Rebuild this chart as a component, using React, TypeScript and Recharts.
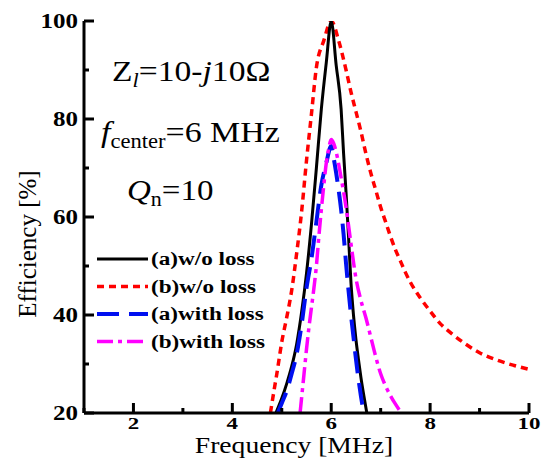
import React from 'react';
import { LineChart, Line, XAxis, YAxis } from 'recharts';

// frequency [MHz] / efficiency [%]
const FREQ_A_NOLOSS = [4.88, 5.0, 5.1, 5.2, 5.3, 5.4, 5.5, 5.6, 5.7, 5.8, 5.9, 6.0, 6.1, 6.2, 6.25, 6.3, 6.35, 6.4, 6.45, 6.5, 6.55, 6.6, 6.66, 6.72];
const EFF_A_NOLOSS = [20, 23, 26, 29.5, 34, 40.5, 48.5, 58.5, 70, 82, 91.5, 100, 91, 82, 73, 65, 56, 46.5, 40, 35, 31, 27.3, 23.5, 20];

const FREQ_B_NOLOSS = [4.77, 4.85, 4.9, 5.0, 5.1, 5.2, 5.3, 5.4, 5.5, 5.6, 5.7, 5.85, 6.0, 6.15, 6.3, 6.4, 6.5, 6.6, 6.7, 6.8, 6.9, 7.0, 7.1, 7.2, 7.3, 7.4, 7.5, 7.6, 7.8, 8.0, 8.2, 8.4, 8.7, 9.0, 9.35, 9.7, 10];
const EFF_B_NOLOSS = [20, 25, 28, 34.5, 39.5, 45, 52.5, 61, 71.5, 81, 90.5, 96, 100, 96, 90, 85.5, 81.5, 77.5, 73, 69, 65.5, 62, 59, 56, 53.3, 51, 48.7, 46.7, 43.5, 40.8, 38.3, 36.5, 34.2, 32.3, 30.8, 29.7, 28.9];

const FREQ_A_LOSS = [4.92, 5.0, 5.1, 5.2, 5.3, 5.4, 5.5, 5.6, 5.7, 5.8, 5.9, 6.0, 6.05, 6.1, 6.15, 6.2, 6.25, 6.3, 6.35, 6.4, 6.45, 6.5, 6.55, 6.6, 6.66];
const EFF_A_LOSS = [20, 22, 24.5, 28, 32, 38, 45.5, 51.5, 59, 66.5, 71, 74.5, 72, 69, 65.5, 61.5, 56.5, 50.5, 45, 40, 35.5, 31, 27, 23.5, 20];

const FREQ_B_LOSS = [5.37, 5.4, 5.45, 5.5, 5.55, 5.6, 5.65, 5.7, 5.75, 5.8, 5.85, 5.9, 5.95, 6.0, 6.05, 6.1, 6.2, 6.3, 6.4, 6.5, 6.6, 6.7, 6.8, 6.9, 7.0, 7.1, 7.2, 7.3, 7.42];
const EFF_B_LOSS = [20, 23, 28, 33, 37.5, 41.5, 45.5, 50, 56, 61.5, 66.5, 71, 74, 75.8, 75, 73.3, 68, 62, 54.5, 47.5, 43, 39.5, 35.5, 31.5, 28, 25.5, 23.5, 21.8, 20];

const X_TICKS = [1, 2, 3, 4, 5, 6, 7, 8, 9, 10];
const X_LABELS = [2, 4, 6, 8, 10];
const Y_TICKS = [20, 30, 40, 50, 60, 70, 80, 90, 100];
const Y_LABELS = [20, 40, 60, 80, 100];

const SERIES = [
  { key: 'bNoLoss', name: '(b)w/o loss', x: FREQ_B_NOLOSS, y: EFF_B_NOLOSS, color: '#ff0000', dash: '7 5', width: 3.5 },
  { key: 'aNoLoss', name: '(a)w/o loss', x: FREQ_A_NOLOSS, y: EFF_A_NOLOSS, color: '#000000', dash: undefined, width: 3 },
  { key: 'aLoss', name: '(a)with loss', x: FREQ_A_LOSS, y: EFF_A_LOSS, color: '#0010f0', dash: '22 10', width: 4 },
  { key: 'bLoss', name: '(b)with loss', x: FREQ_B_LOSS, y: EFF_B_LOSS, color: '#ff00ff', dash: '16 5 4 5', width: 3.5 },
];
const LEGEND_ORDER = ['aNoLoss', 'bNoLoss', 'aLoss', 'bLoss'];

const W = 548;
const H = 458;
const M = { top: 21, right: 19, bottom: 0, left: 0 };
const FONT = '"Liberation Serif", "Times New Roman", serif';

const toPoints = (xs: number[], ys: number[]) => xs.map((x, i) => ({ x, y: ys[i] }));

// the source figure is stretched sideways a little, so the texts are too
const wide = (x: number, y: number, sx: number) => `translate(${x} ${y}) scale(${sx} 1)`;

const BottomTick = (props: any) => {
  const { x, y, payload } = props;
  const major = X_LABELS.includes(payload.value);
  return (
    <g>
      <line x1={x} y1={y} x2={x} y2={y - (major ? 10 : 5)} stroke="#000" strokeWidth={3} />
      {major && (
        <text transform={wide(x, y + 16, 1.35)} textAnchor="middle" fontFamily={FONT} fontWeight="bold" fontSize={17} fill="#000">
          {payload.value}
        </text>
      )}
    </g>
  );
};

const TopTick = (props: any) => {
  const { x, y, payload } = props;
  const major = X_LABELS.includes(payload.value);
  return <line x1={x} y1={y} x2={x} y2={y + (major ? 10 : 5)} stroke="#000" strokeWidth={3} />;
};

const LeftTick = (props: any) => {
  const { x, y, payload } = props;
  const major = Y_LABELS.includes(payload.value);
  return (
    <g>
      <line x1={x} y1={y} x2={x + (major ? 10 : 5)} y2={y} stroke="#000" strokeWidth={3} />
      {major && (
        <text transform={wide(x - 6, y + 7, 1.25)} textAnchor="end" fontFamily={FONT} fontWeight="bold" fontSize={20} fill="#000">
          {payload.value}
        </text>
      )}
    </g>
  );
};

const RightTick = (props: any) => {
  const { x, y, payload } = props;
  const major = Y_LABELS.includes(payload.value);
  return <line x1={x} y1={y} x2={x - (major ? 10 : 5)} y2={y} stroke="#000" strokeWidth={3} />;
};

export default function App() {
  return (
    <div style={{ position: 'relative', width: W, height: H, background: '#fff' }}>
      <style>{'body{margin:0}'}</style>
      <LineChart width={W} height={H} margin={M}>
        <XAxis
          type="number"
          dataKey="x"
          domain={[1, 10]}
          ticks={X_TICKS}
          interval={0}
          allowDataOverflow
          height={45}
          tickSize={0}
          tickMargin={0}
          tick={<BottomTick />}
          axisLine={{ stroke: '#000', strokeWidth: 3 }}
          tickLine={false}
        />
        <XAxis
          xAxisId="top"
          orientation="top"
          type="number"
          domain={[1, 10]}
          ticks={X_TICKS}
          interval={0}
          height={0}
          tickSize={0}
          tickMargin={0}
          tick={<TopTick />}
          axisLine={{ stroke: '#000', strokeWidth: 3 }}
          tickLine={false}
        />
        <YAxis
          type="number"
          domain={[20, 100]}
          ticks={Y_TICKS}
          interval={0}
          allowDataOverflow
          width={84}
          tickSize={0}
          tickMargin={0}
          tick={<LeftTick />}
          axisLine={{ stroke: '#000', strokeWidth: 3 }}
          tickLine={false}
        />
        <YAxis
          yAxisId="right"
          orientation="right"
          type="number"
          domain={[20, 100]}
          ticks={Y_TICKS}
          interval={0}
          width={0}
          tickSize={0}
          tickMargin={0}
          tick={<RightTick />}
          axisLine={{ stroke: '#000', strokeWidth: 3 }}
          tickLine={false}
        />
        {SERIES.map((s) => (
          <Line
            key={s.key}
            data={toPoints(s.x, s.y)}
            dataKey="y"
            type="monotone"
            stroke={s.color}
            strokeWidth={s.width}
            strokeDasharray={s.dash}
            dot={false}
            activeDot={false}
            isAnimationActive={false}
          />
        ))}
      </LineChart>

      <svg width={W} height={H} style={{ position: 'absolute', left: 0, top: 0, pointerEvents: 'none' }} fontFamily={FONT}>
        {/* annotations */}
        <text transform={wide(112, 81, 1.12)} fontSize={30} fill="#000">
          Z<tspan fontStyle="italic" fontSize={20} dy={6}>l</tspan>
          <tspan dy={-6}>=10-</tspan>
          <tspan fontStyle="italic">j</tspan>10Ω
        </text>
        <text transform={wide(101, 142, 1.13)} fontSize={30} fill="#000">
          <tspan fontStyle="italic">f</tspan>
          <tspan fontSize={20} dy={6}>center</tspan>
          <tspan dy={-6}>=6 MHz</tspan>
        </text>
        <text transform={wide(127, 200, 1.1)} fontSize={30} fill="#000">
          <tspan fontStyle="italic">Q</tspan>
          <tspan fontSize={20} dy={6}>n</tspan>
          <tspan dy={-6}>=10</tspan>
        </text>

        {/* legend */}
        {LEGEND_ORDER.map((k, i) => {
          const s = SERIES.find((d) => d.key === k)!;
          const cy = 259 + i * 27.5;
          return (
            <g key={k}>
              <line x1={97} y1={cy} x2={148} y2={cy} stroke={s.color} strokeWidth={s.width} strokeDasharray={s.dash} />
              <text transform={wide(151, cy + 6, 1.22)} fontSize={19} fontWeight="bold" fill="#000">{s.name}</text>
            </g>
          );
        })}

        {/* axis titles */}
        <text transform={wide(294, 453, 1.2)} textAnchor="middle" fontSize={23} fill="#000">Frequency [MHz]</text>
        <text x={36} y={244} textAnchor="middle" fontSize={25} fill="#000" transform="rotate(-90 36 244)">Efficiency [%]</text>
      </svg>
    </div>
  );
}
